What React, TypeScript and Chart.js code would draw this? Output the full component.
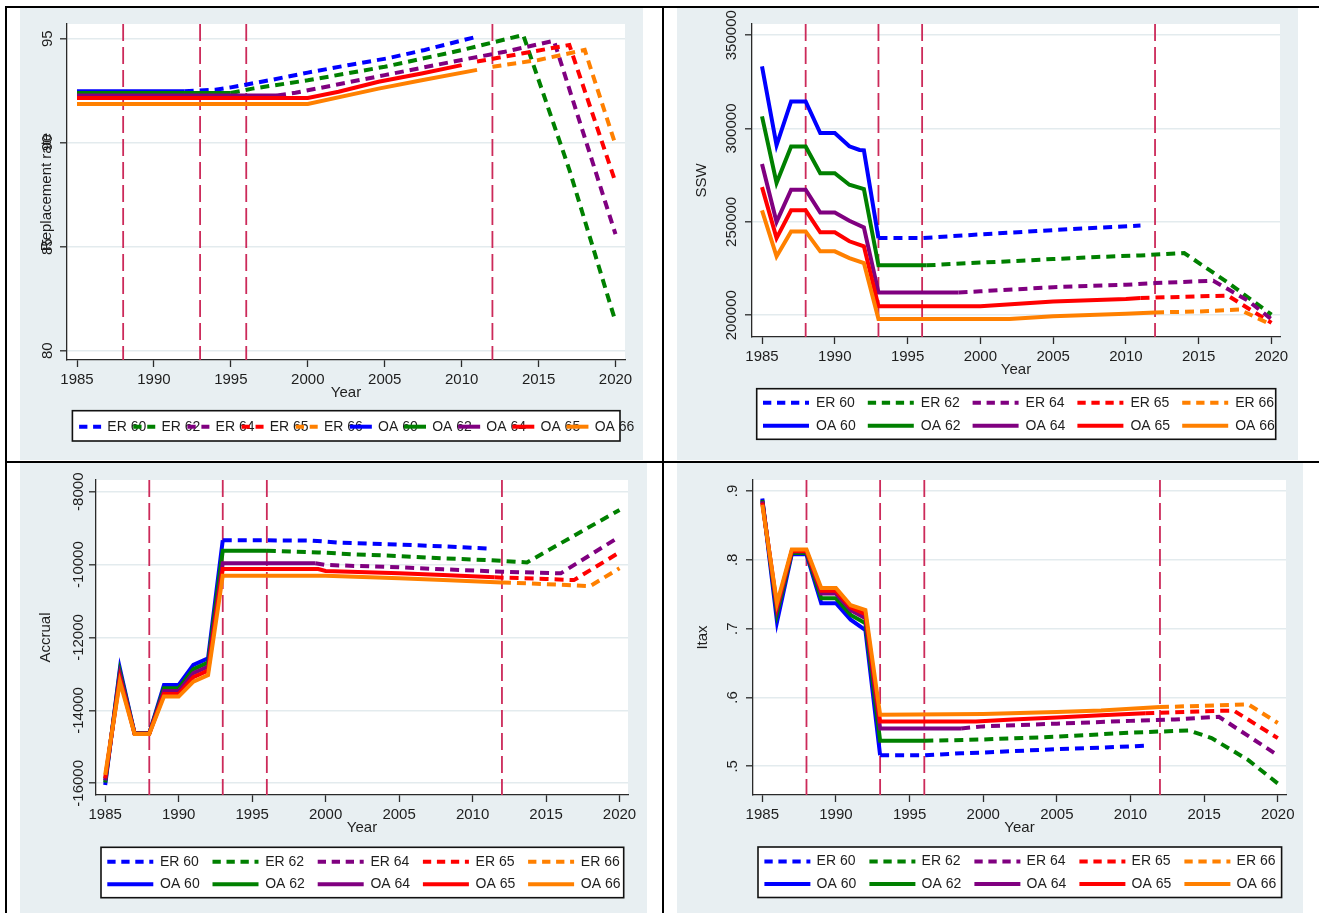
import { useEffect, useRef } from "react";
import { Chart, registerables } from "chart.js";

Chart.register(...registerables);

type Pt = [number, number];

// ---- shared categories / ticks ----
const SERIES_NAMES = ["ER 60", "ER 62", "ER 64", "ER 65", "ER 66", "OA 60", "OA 62", "OA 64", "OA 65", "OA 66"];
const SERIES_COLORS = ["#0000ff", "#008000", "#800080", "#ff0000", "#ff8000"];
const YEAR_TICKS = [1985, 1990, 1995, 2000, 2005, 2010, 2015, 2020];
const REFORM_YEARS = [1988, 1993, 1996, 2012];

// ---- Replacement rate ----
const RR_ER60: Pt[] = [[1992, 92.47], [1994, 92.55], [1995, 92.66], [1997.5, 93.0], [2000, 93.37], [2002.7, 93.74], [2005.2, 94.06], [2007.6, 94.46], [2011, 95.1]];
const RR_ER62: Pt[] = [[1995, 92.39], [1996.4, 92.6], [2000, 93.0], [2005, 93.65], [2010, 94.45], [2014, 95.18], [2017, 88.7], [2020, 81.4]];
const RR_ER64: Pt[] = [[1998, 92.27], [1999.2, 92.4], [2005, 93.25], [2010, 93.98], [2012.8, 94.37], [2016, 94.9], [2020, 85.6]];
const RR_ER65: Pt[] = [[2011, 93.9], [2014, 94.3], [2017, 94.7], [2020, 88.1]];
const RR_ER66: Pt[] = [[2012, 93.65], [2015, 93.98], [2018, 94.46], [2020, 89.9]];
const RR_OA60: Pt[] = [[1985, 92.47], [1992, 92.47]];
const RR_OA62: Pt[] = [[1985, 92.39], [1995, 92.39]];
const RR_OA64: Pt[] = [[1985, 92.27], [1998, 92.27]];
const RR_OA65: Pt[] = [[1985, 92.15], [2000, 92.15], [2002, 92.45], [2004.6, 92.93], [2007.4, 93.33], [2010, 93.73]];
const RR_OA66: Pt[] = [[1985, 91.86], [2000, 91.86], [2004.6, 92.6], [2007.4, 93.0], [2011, 93.5]];
const RR_TICKS = [80, 85, 90, 95];
const RR_TICK_LABELS = ["80", "85", "90", "95"];

// ---- SSW ----
const SSW_ER60: Pt[] = [[1993, 241300], [1996, 241300], [1999, 242800], [2002, 244200], [2005, 245600], [2008, 246800], [2011, 248000]];
const SSW_ER62: Pt[] = [[1996.3, 226700], [1999, 227800], [2002, 228900], [2005, 230100], [2008, 231200], [2011, 232000], [2014, 233300], [2017, 217500], [2020, 200300]];
const SSW_ER64: Pt[] = [[1998.5, 212200], [2000, 212800], [2005, 215000], [2010, 216300], [2012, 217200], [2016, 218500], [2017, 214000], [2018.4, 207700], [2020, 197800]];
const SSW_ER65: Pt[] = [[2011, 209200], [2015, 210100], [2017, 210500], [2020, 195900]];
const SSW_ER66: Pt[] = [[2012, 201500], [2015, 202000], [2017.8, 203000], [2020, 194900]];
const SSW_OA60: Pt[] = [[1985, 333300], [1986, 291000], [1987, 314500], [1988, 314500], [1989, 297600], [1990, 297600], [1991, 290500], [1991.7, 288500], [1992, 288300], [1993, 241300]];
const SSW_OA62: Pt[] = [[1985, 306500], [1986, 270800], [1987, 290400], [1988, 290400], [1989, 276100], [1990, 276100], [1991, 269900], [1992, 267600], [1993, 226700], [1996.3, 226700]];
const SSW_OA64: Pt[] = [[1985, 281000], [1986, 250000], [1987, 267200], [1988, 267200], [1989, 255000], [1990, 255000], [1991, 250600], [1992, 247000], [1993, 212200], [1998.5, 212200]];
const SSW_OA65: Pt[] = [[1985, 268600], [1986, 241300], [1987, 256200], [1988, 256200], [1989, 244400], [1990, 244400], [1991, 239600], [1992, 236900], [1993, 204800], [2000, 204800], [2005, 207400], [2010, 208700], [2011, 209200]];
const SSW_OA66: Pt[] = [[1985, 256200], [1986, 231500], [1987, 244900], [1988, 244900], [1989, 234200], [1990, 234200], [1991, 230600], [1992, 227900], [1993, 197900], [2002, 197900], [2005, 199400], [2010, 200800], [2012, 201500]];
const SSW_TICKS = [200000, 250000, 300000, 350000];
const SSW_TICK_LABELS = ["200000", "250000", "300000", "350000"];

// ---- Accrual ----
const ACC_ER60: Pt[] = [[1993, -9330], [1999, -9340], [2001, -9400], [2005, -9450], [2008, -9500], [2011, -9560]];
const ACC_ER62: Pt[] = [[1996, -9620], [1999.5, -9665], [2002, -9720], [2005, -9765], [2008, -9830], [2011, -9875], [2013.7, -9940], [2020, -8500]];
const ACC_ER64: Pt[] = [[1999.3, -9965], [2000, -10010], [2005, -10075], [2008, -10130], [2012, -10195], [2016, -10240], [2020, -9235]];
const ACC_ER65: Pt[] = [[2011.5, -10350], [2015, -10395], [2016.9, -10425], [2020, -9665]];
const ACC_ER66: Pt[] = [[2012, -10490], [2015, -10535], [2018, -10590], [2020, -10100]];
const ACC_OA60: Pt[] = [[1985, -16050], [1986, -12850], [1987, -14630], [1988, -14630], [1989, -13300], [1990, -13300], [1991, -12750], [1992, -12570], [1993, -9330]];
const ACC_OA62: Pt[] = [[1985, -15980], [1986, -12940], [1987, -14630], [1988, -14630], [1989, -13390], [1990, -13390], [1991, -12870], [1992, -12690], [1993, -9620], [1996, -9620]];
const ACC_OA64: Pt[] = [[1985, -15920], [1986, -13030], [1987, -14635], [1988, -14635], [1989, -13470], [1990, -13470], [1991, -12980], [1992, -12800], [1993, -9965], [1999.3, -9965]];
const ACC_OA65: Pt[] = [[1985, -15860], [1986, -13120], [1987, -14640], [1988, -14640], [1989, -13550], [1990, -13550], [1991, -13090], [1992, -12910], [1993, -10120], [1999.5, -10120], [2000, -10175], [2005, -10240], [2008, -10285], [2011.5, -10350]];
const ACC_OA66: Pt[] = [[1985, -15770], [1986, -13210], [1987, -14645], [1988, -14645], [1989, -13620], [1990, -13620], [1991, -13210], [1992, -13030], [1993, -10305], [2000, -10305], [2005, -10375], [2008, -10425], [2012, -10490]];
const ACC_TICKS = [-16000, -14000, -12000, -10000, -8000];
const ACC_TICK_LABELS = ["-16000", "-14000", "-12000", "-10000", "-8000"];

// ---- Itax ----
const IT_ER60: Pt[] = [[1993, 0.516], [1996, 0.516], [1998.5, 0.519], [2000, 0.52], [2002, 0.522], [2005, 0.525], [2008, 0.527], [2011, 0.53]];
const IT_ER62: Pt[] = [[1996, 0.537], [2000, 0.539], [2005, 0.543], [2010, 0.549], [2014, 0.552], [2015.5, 0.541], [2018, 0.509], [2020, 0.475]];
const IT_ER64: Pt[] = [[1998.5, 0.555], [2000, 0.558], [2005, 0.562], [2010, 0.566], [2013, 0.568], [2016, 0.572], [2020, 0.516]];
const IT_ER65: Pt[] = [[2011, 0.577], [2015, 0.58], [2017, 0.581], [2020, 0.541]];
const IT_ER66: Pt[] = [[2012, 0.586], [2015, 0.588], [2018, 0.59], [2020, 0.563]];
const IT_OA60: Pt[] = [[1985, 0.889], [1986, 0.71], [1987, 0.808], [1988, 0.808], [1989, 0.737], [1990, 0.737], [1991, 0.713], [1992, 0.698], [1993, 0.516]];
const IT_OA62: Pt[] = [[1985, 0.887], [1986, 0.722], [1987, 0.81], [1988, 0.81], [1989, 0.744], [1990, 0.744], [1991, 0.72], [1992, 0.708], [1993, 0.537], [1996, 0.537]];
const IT_OA64: Pt[] = [[1985, 0.885], [1986, 0.729], [1987, 0.812], [1988, 0.812], [1989, 0.751], [1990, 0.751], [1991, 0.727], [1992, 0.715], [1993, 0.555], [1998.5, 0.555]];
const IT_OA65: Pt[] = [[1985, 0.883], [1986, 0.733], [1987, 0.813], [1988, 0.813], [1989, 0.755], [1990, 0.755], [1991, 0.731], [1992, 0.721], [1993, 0.565], [1999.5, 0.565], [2002, 0.568], [2005, 0.571], [2008, 0.574], [2011, 0.577]];
const IT_OA66: Pt[] = [[1985, 0.88], [1986, 0.737], [1987, 0.815], [1988, 0.815], [1989, 0.759], [1990, 0.759], [1991, 0.734], [1992, 0.727], [1993, 0.575], [2000, 0.576], [2005, 0.579], [2008, 0.581], [2012, 0.586]];
const IT_TICKS = [0.5, 0.6, 0.7, 0.8, 0.9];
const IT_TICK_LABELS = [".5", ".6", ".7", ".8", ".9"];

// ---- styling ----
const FONT_FAMILY = "'Liberation Sans', Arial, Helvetica, sans-serif";
const AXIS_FONT = 15;
const LEGEND_FONT = 14;
const TEXT_COLOR = "#1e1e1e";
const AXIS_COLOR = "#2a2a2a";
const GRID_COLOR = "#e3ebee";
const PANEL_BG = "#e8eff2";
const REF_COLOR = "#cc2a5a";
const PLOT_DASH = [9, 6];
const LEGEND_DASH = [8.3, 5.7];
const LINE_W = 4;
const X_TITLE_GAP = 33;
const X_AXIS_H = X_TITLE_GAP + (AXIS_FONT * 1.2) / 2;

interface LegendSpec {
  box: [number, number, number, number];
  rows: number[];
  perRow: number;
  x0: number;
  step: number;
  sample: number;
  textDx: number;
}

interface PanelSpec {
  id: string;
  left: number;
  top: number;
  width: number;
  height: number;
  plot: { l: number; t: number; r: number; b: number };
  xRange: [number, number];
  yRange: [number, number];
  yTicks: number[];
  yTickLabels: string[];
  yLabelX: number;
  yTitle: string;
  yTitleX: number;
  series: Pt[][];
  legend: LegendSpec;
}

const PANELS: PanelSpec[] = [
  {
    id: "rr",
    left: 20, top: 8, width: 623, height: 452,
    plot: { l: 47, t: 16, r: 605, b: 352 },
    xRange: [1984.35, 2020.617],
    yRange: [79.553, 95.707],
    yTicks: RR_TICKS, yTickLabels: RR_TICK_LABELS, yLabelX: 28,
    yTitle: "Replacement rate", yTitleX: 27,
    series: [RR_ER60, RR_ER62, RR_ER64, RR_ER65, RR_ER66, RR_OA60, RR_OA62, RR_OA64, RR_OA65, RR_OA66],
    legend: { box: [52.4, 402.7, 600, 433], rows: [418.7], perRow: 10, x0: 59.1, step: 54.15, sample: 22, textDx: 28.2 },
  },
  {
    id: "ssw",
    left: 677, top: 8, width: 621, height: 452,
    plot: { l: 75, t: 16, r: 603, b: 329 },
    xRange: [1984.313, 2020.584],
    yRange: [188321, 356000],
    yTicks: SSW_TICKS, yTickLabels: SSW_TICK_LABELS, yLabelX: 55,
    yTitle: "SSW", yTitleX: 25,
    series: [SSW_ER60, SSW_ER62, SSW_ER64, SSW_ER65, SSW_ER66, SSW_OA60, SSW_OA62, SSW_OA64, SSW_OA65, SSW_OA66],
    legend: { box: [79.7, 380.7, 598.7, 431.3], rows: [394.7, 417.7], perRow: 5, x0: 86, step: 104.8, sample: 46, textDx: 53 },
  },
  {
    id: "acc",
    left: 20, top: 463, width: 627, height: 450,
    plot: { l: 76, t: 17, r: 608, b: 332 },
    xRange: [1984.374, 2020.578],
    yRange: [-16321, -7679],
    yTicks: ACC_TICKS, yTickLabels: ACC_TICK_LABELS, yLabelX: 58.7,
    yTitle: "Accrual", yTitleX: 26.3,
    series: [ACC_ER60, ACC_ER62, ACC_ER64, ACC_ER65, ACC_ER66, ACC_OA60, ACC_OA62, ACC_OA64, ACC_OA65, ACC_OA66],
    legend: { box: [81, 384.3, 603.7, 434.7], rows: [398.7, 421.3], perRow: 5, x0: 87.3, step: 105.2, sample: 46, textDx: 52.7 },
  },
  {
    id: "itax",
    left: 677, top: 463, width: 626, height: 450,
    plot: { l: 76, t: 17, r: 609, b: 332 },
    xRange: [1984.369, 2020.557],
    yRange: [0.4583, 0.91598],
    yTicks: IT_TICKS, yTickLabels: IT_TICK_LABELS, yLabelX: 55.6,
    yTitle: "Itax", yTitleX: 25.7,
    series: [IT_ER60, IT_ER62, IT_ER64, IT_ER65, IT_ER66, IT_OA60, IT_OA62, IT_OA64, IT_OA65, IT_OA66],
    legend: { box: [81, 384, 604.6, 434.5], rows: [398.5, 421], perRow: 5, x0: 87.4, step: 105, sample: 46, textDx: 52.2 },
  },
];

// White plot region, reform-year reference lines, rotated y labels and the key box.
function makeDecor(spec: PanelSpec) {
  return {
    id: "panelDecor",
    beforeDraw(chart: any) {
      const { ctx, chartArea: a } = chart;
      ctx.save();
      ctx.fillStyle = "#ffffff";
      ctx.fillRect(a.left, a.top, a.right - a.left, a.bottom - a.top);
      ctx.restore();
    },
    beforeDatasetsDraw(chart: any) {
      const { ctx, chartArea: a, scales } = chart;
      ctx.save();
      ctx.strokeStyle = REF_COLOR;
      ctx.lineWidth = 1.8;
      ctx.setLineDash([17, 6]);
      for (const yr of REFORM_YEARS) {
        const x = scales.x.getPixelForValue(yr);
        ctx.beginPath();
        ctx.moveTo(x, a.top);
        ctx.lineTo(x, a.bottom);
        ctx.stroke();
      }
      ctx.restore();
    },
    afterDraw(chart: any) {
      const { ctx, scales } = chart;
      ctx.save();
      ctx.fillStyle = TEXT_COLOR;
      ctx.font = `${AXIS_FONT}px ${FONT_FAMILY}`;
      ctx.textAlign = "center";
      ctx.textBaseline = "middle";
      spec.yTicks.forEach((v, i) => {
        const y = scales.y.getPixelForValue(v);
        ctx.save();
        ctx.translate(spec.yLabelX, y);
        ctx.rotate(-Math.PI / 2);
        ctx.fillText(spec.yTickLabels[i], 0, 0);
        ctx.restore();
      });

      const lg = spec.legend;
      const [bl, bt, br, bb] = lg.box;
      ctx.fillStyle = "#ffffff";
      ctx.fillRect(bl, bt, br - bl, bb - bt);
      ctx.strokeStyle = "#111111";
      ctx.lineWidth = 1.6;
      ctx.strokeRect(bl, bt, br - bl, bb - bt);
      ctx.font = `${LEGEND_FONT}px ${FONT_FAMILY}`;
      ctx.textAlign = "left";
      ctx.textBaseline = "middle";
      chart.data.datasets.forEach((ds: any, i: number) => {
        const col = i % lg.perRow;
        const row = Math.floor(i / lg.perRow);
        const x0 = lg.x0 + col * lg.step;
        const y = lg.rows[row];
        ctx.strokeStyle = ds.borderColor;
        ctx.lineWidth = LINE_W;
        ctx.setLineDash(ds.borderDash && ds.borderDash.length ? LEGEND_DASH : []);
        ctx.beginPath();
        ctx.moveTo(x0, y);
        ctx.lineTo(x0 + lg.sample, y);
        ctx.stroke();
        ctx.setLineDash([]);
        ctx.fillStyle = TEXT_COLOR;
        ctx.fillText(ds.label, x0 + lg.textDx, y);
      });
      ctx.restore();
    },
  };
}

function Panel({ spec }: { spec: PanelSpec }) {
  const ref = useRef<HTMLCanvasElement | null>(null);

  useEffect(() => {
    if (!ref.current) return;
    const n = spec.series.length;
    const datasets = spec.series.map((pts, i) => ({
      label: SERIES_NAMES[i],
      data: pts.map(([x, y]) => ({ x, y })),
      borderColor: SERIES_COLORS[i % 5],
      backgroundColor: SERIES_COLORS[i % 5],
      borderWidth: LINE_W,
      borderDash: i < 5 ? PLOT_DASH : [],
      pointRadius: 0,
      pointHoverRadius: 0,
      tension: 0,
      fill: false,
      order: n - i,
    }));
    const { plot } = spec;
    const chart = new Chart(ref.current, {
      type: "line",
      data: { datasets },
      plugins: [makeDecor(spec)],
      options: {
        responsive: false,
        maintainAspectRatio: false,
        animation: false,
        devicePixelRatio: 1,
        events: [],
        font: { family: FONT_FAMILY },
        layout: {
          padding: { left: 0, top: plot.t, right: spec.width - plot.r, bottom: spec.height - plot.b - X_AXIS_H },
        },
        plugins: { legend: { display: false }, tooltip: { enabled: false } },
        scales: {
          x: {
            type: "linear",
            min: spec.xRange[0],
            max: spec.xRange[1],
            afterBuildTicks: (s: any) => {
              s.ticks = YEAR_TICKS.map((value) => ({ value }));
            },
            afterFit: (s: any) => {
              s.height = X_AXIS_H;
            },
            grid: { drawOnChartArea: false, drawTicks: true, tickLength: 7, tickColor: AXIS_COLOR, tickWidth: 1.3 },
            border: { display: true, color: AXIS_COLOR, width: 1.3 },
            ticks: {
              autoSkip: false,
              maxRotation: 0,
              minRotation: 0,
              padding: 3.5,
              color: TEXT_COLOR,
              font: { family: FONT_FAMILY, size: AXIS_FONT },
              callback: (v: any) => String(v),
            },
            title: { display: true, text: "Year", color: TEXT_COLOR, font: { family: FONT_FAMILY, size: AXIS_FONT }, padding: 0 },
          },
          y: {
            type: "linear",
            min: spec.yRange[0],
            max: spec.yRange[1],
            afterBuildTicks: (s: any) => {
              s.ticks = spec.yTicks.map((value) => ({ value }));
            },
            afterFit: (s: any) => {
              s.width = plot.l;
            },
            grid: { drawOnChartArea: true, color: GRID_COLOR, lineWidth: 1.6, drawTicks: true, tickLength: 7, tickColor: AXIS_COLOR, tickWidth: 1.3 },
            border: { display: true, color: AXIS_COLOR, width: 1.3 },
            ticks: { display: false },
            title: {
              display: true,
              text: spec.yTitle,
              color: TEXT_COLOR,
              font: { family: FONT_FAMILY, size: AXIS_FONT },
              padding: { top: spec.yTitleX - (AXIS_FONT * 1.2) / 2, bottom: 0 },
            },
          },
        },
      } as any,
    });
    return () => chart.destroy();
  }, [spec]);

  return (
    <canvas
      ref={ref}
      width={spec.width}
      height={spec.height}
      style={{ position: "absolute", left: spec.left, top: spec.top, width: spec.width, height: spec.height, background: PANEL_BG }}
    />
  );
}

const rule = (left: number, top: number, width: number, height: number) => ({
  position: "absolute" as const,
  left,
  top,
  width,
  height,
  background: "#000",
});

export default function App() {
  return (
    <div style={{ position: "absolute", left: 0, top: 0, width: 1319, height: 913, background: "#fff", overflow: "hidden" }}>
      {PANELS.map((p) => (
        <Panel key={p.id} spec={p} />
      ))}
      <div style={rule(5, 6, 1314, 2)} />
      <div style={rule(5, 6, 2, 907)} />
      <div style={rule(662, 6, 2, 907)} />
      <div style={rule(5, 461, 1314, 2)} />
    </div>
  );
}
